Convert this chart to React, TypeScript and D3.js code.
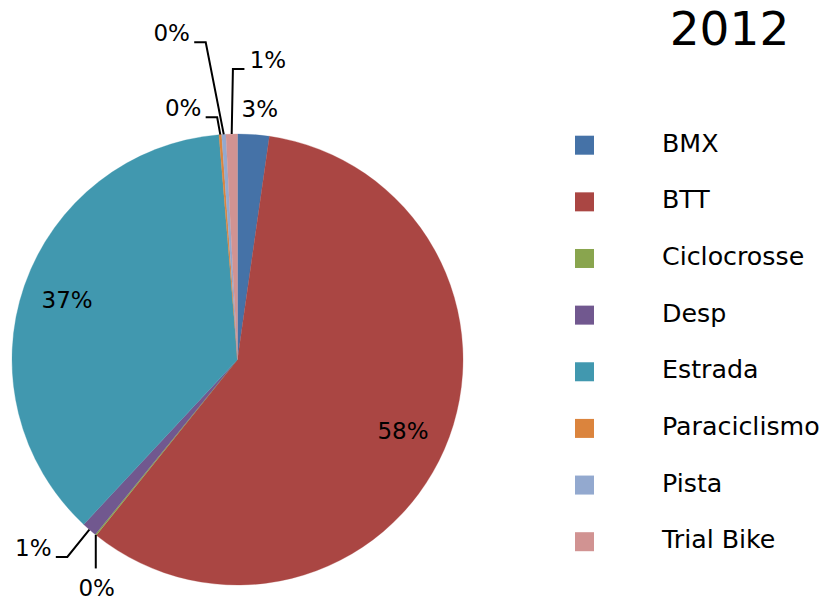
import React from "react";
import * as d3 from "d3";

const title = "2012";
const categories = ["BMX", "BTT", "Ciclocrosse", "Desp", "Estrada", "Paraciclismo", "Pista", "Trial Bike"];
const values = [2.26, 58.5, 0.1, 1.08, 36.74, 0.19, 0.3, 0.82];
const percentLabels = ["3%", "58%", "0%", "1%", "37%", "0%", "0%", "1%"];
const colors = ["#4572A7", "#AA4643", "#89A54E", "#71588F", "#4198AF", "#DB843D", "#93A9CF", "#D19392"];
// label placement: angle in degrees (null = slice middle), radius as fraction of pie radius
const labelAngles: (number | null)[] = [5.1, null, 211.6, 227.3, null, -12.2, -11.4, 5.8];
const labelRadii = [1.115, 0.8, 1.192, 1.232, 0.8, 1.14, 1.476, 1.335];
const leaderKinds = ["none", "none", "down", "right", "none", "right", "right", "left"];

const W = 823;
const H = 602;
const cx = 237.5;
const cy = 359.5;
const R = 225.5;
const FONT = "'DejaVu Sans', sans-serif";

export default function App() {
  const pie = d3.pie<number>().sort(null).value((d) => d).startAngle(0).endAngle(2 * Math.PI);
  const arcs = pie(values);
  const arc = d3.arc<d3.PieArcDatum<number>>().innerRadius(0).outerRadius(R);
  const pt = (ang: number, rad: number): [number, number] => [cx + rad * Math.sin(ang), cy - rad * Math.cos(ang)];

  const legendY = d3.scaleLinear().domain([0, categories.length - 1]).range([145.2, 541.7]);
  const line = d3.line();

  return (
    <svg width={W} height={H} style={{ position: "absolute", left: 0, top: 0, background: "#fff" }}>
      <g transform={`translate(${cx},${cy})`}>
        {arcs.map((a, i) => (
          <path key={i} d={arc(a) || ""} fill={colors[i]} stroke={colors[i]} strokeWidth={0.3} />
        ))}
      </g>
      {arcs.map((a, i) => {
        const mid = (a.startAngle + a.endAngle) / 2;
        const la = labelAngles[i] === null ? mid : ((labelAngles[i] as number) * Math.PI) / 180;
        const [lx, ly] = pt(la, labelRadii[i] * R);
        const kind = leaderKinds[i];
        const halfW = percentLabels[i].length > 2 ? 24 : 16.5;
        let leader: [number, number][] | null = null;
        const start = pt(mid, R);
        if (kind === "right") {
          const end: [number, number] = [lx + halfW + 6, ly + 9];
          leader = [start, [end[0] + 11.5, end[1]], end];
        } else if (kind === "left") {
          const end: [number, number] = [lx - halfW - 7, ly + 9];
          leader = [start, [end[0] - 11.5, end[1]], end];
        } else if (kind === "down") {
          leader = [start, [start[0], ly - 20]];
        }
        return (
          <g key={i}>
            {leader && <path d={line(leader) || ""} fill="none" stroke="#000" strokeWidth={2} />}
            <text x={lx} y={ly} textAnchor="middle" dominantBaseline="central" fontFamily={FONT} fontSize={23} fill="#000">
              {percentLabels[i]}
            </text>
          </g>
        );
      })}
      <text x={729.5} y={45} textAnchor="middle" fontFamily={FONT} fontSize={47} fill="#000">
        {title}
      </text>
      {categories.map((c, i) => (
        <g key={c}>
          <rect x={575} y={legendY(i) - 9.5} width={19} height={19} fill={colors[i]} />
          <text x={662} y={legendY(i) + 6.5} fontFamily={FONT} fontSize={25.3} fill="#000">
            {c}
          </text>
        </g>
      ))}
    </svg>
  );
}
